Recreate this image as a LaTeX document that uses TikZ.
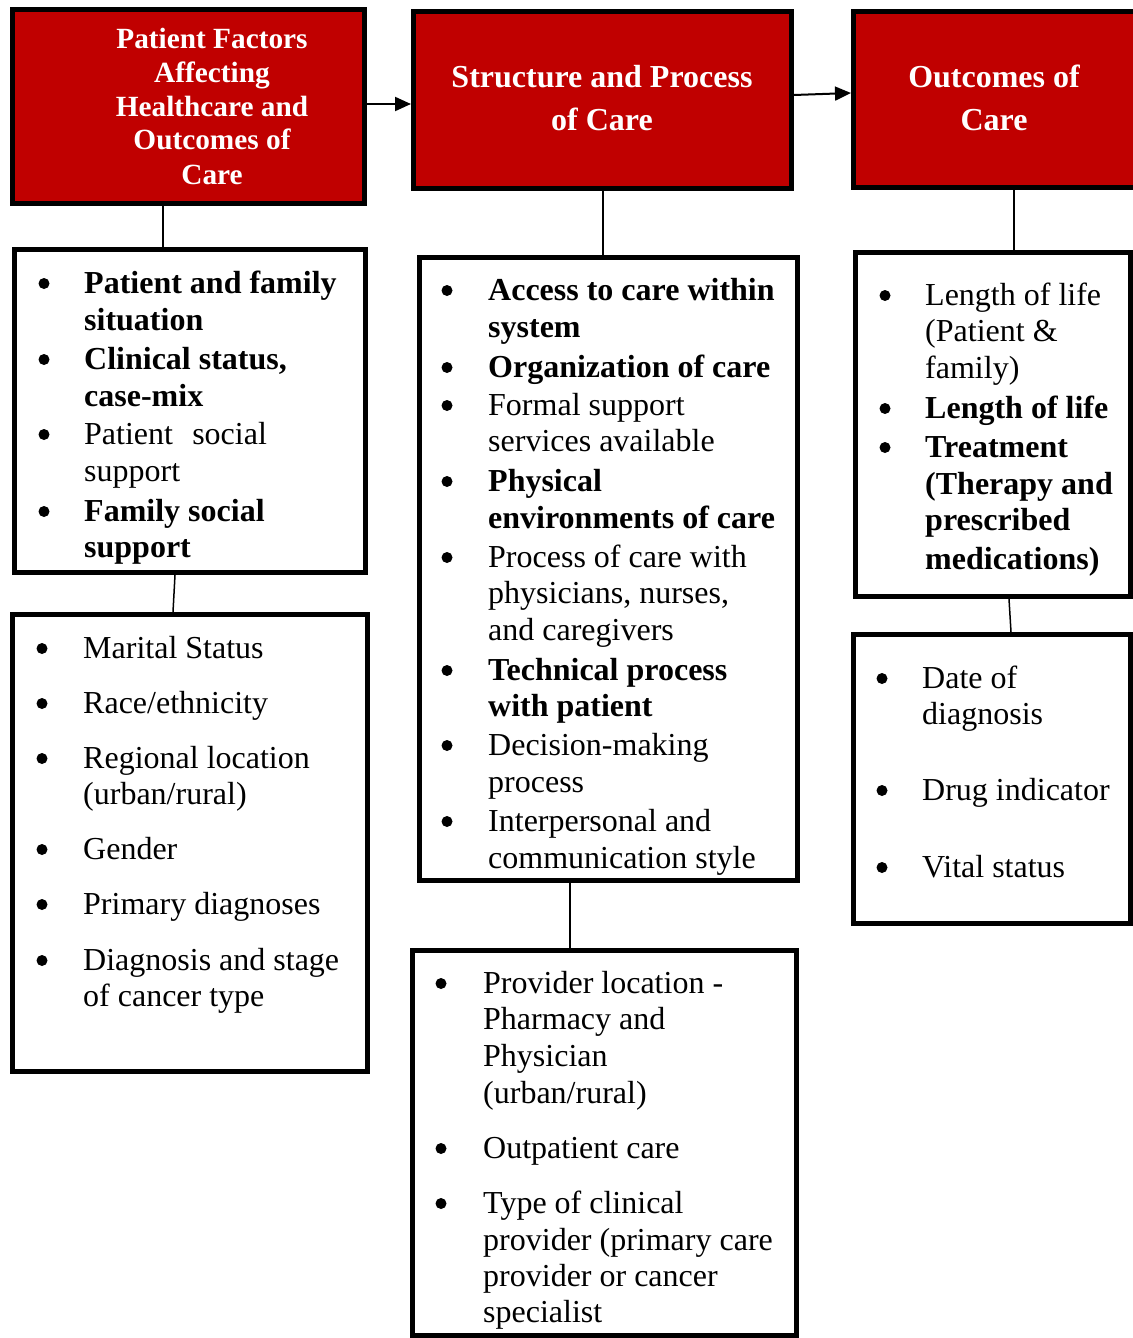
\documentclass[tikz,border=0pt]{standalone}
\usepackage{fontspec}
\setmainfont{Liberation Serif}
\usetikzlibrary{arrows.meta}
\definecolor{hdrred}{RGB}{192,0,0}
\newcommand\myfs{\fontsize{32}{37}\selectfont}
\newcommand\myhfs{\fontsize{29.3}{34}\selectfont\bfseries}
\newcommand\myhbfs{\fontsize{32}{44}\selectfont\bfseries}
\begin{document}
\begin{tikzpicture}[x=1pt,y=-1pt,
  hdr/.style={draw=black, line width=5pt, fill=hdrred, rectangle, anchor=north west, inner sep=0pt},
  lbox/.style={draw=black, line width=5pt, rectangle, anchor=north west, inner sep=0pt},
  htxt/.style={anchor=base, inner sep=0pt, text=white},
  txt/.style={anchor=base west, inner sep=0pt, font=\myfs},
  btxt/.style={anchor=base west, inner sep=0pt, font=\myfs\bfseries},
  bul/.style={circle, fill=black, inner sep=0pt, minimum size=11pt},
  conn/.style={draw=black, line width=1.5pt},
  arr/.style={draw=black, line width=2pt, -{Triangle[length=16pt,width=14pt]}}
]
\useasboundingbox (0,0) rectangle (1132,1338);

% ---------- headers ----------
\node[hdr, minimum width=352pt, minimum height=194pt] (h1) at (10,7) {};
\node[hdr, minimum width=378pt, minimum height=177pt] (h2) at (411,9) {};
\node[hdr, minimum width=300pt, minimum height=176pt] (h3) at (851,9) {};

\node[htxt, font=\myhfs] (h1t1) at (212,48.5) {Patient Factors};
\node[htxt, font=\myhfs] (h1t2) at (212,82.5) {Affecting};
\node[htxt, font=\myhfs] (h1t3) at (212,116.5) {Healthcare and};
\node[htxt, font=\myhfs] (h1t4) at (212,149.5) {Outcomes of};
\node[htxt, font=\myhfs] (h1t5) at (212,184.5) {Care};

\node[htxt, font=\myhbfs] (h2t1) at (602,87.3) {Structure and Process};
\node[htxt, font=\myhbfs] (h2t2) at (602,130.7) {of Care};

\node[htxt, font=\myhbfs] (h3t1) at (994,87.3) {Outcomes of};
\node[htxt, font=\myhbfs] (h3t2) at (994,130.7) {Care};

% ---------- box A ----------
\node[bul] (a1b) at (44,283.5) {};
\node[btxt] (a1t1) at (84,293.5) {Patient and family};
\node[btxt] (a1t2) at (84,330.5) {situation};
\node[bul] (a2b) at (44,359.5) {};
\node[btxt] (a2t1) at (84,369.5) {Clinical status,};
\node[btxt] (a2t2) at (84,406.5) {case-mix};
\node[bul] (a3b) at (44,434.5) {};
\node[txt] (a3t1) at (84,444.5) {Patient\hspace{0.35em} social};
\node[txt] (a3t2) at (84,481.5) {support};
\node[bul] (a4b) at (44,511.5) {};
\node[btxt] (a4t1) at (84,521.5) {Family social};
\node[btxt] (a4t2) at (84,557.5) {support};

% ---------- box B ----------
\node[bul] (b1b) at (42,648.5) {};
\node[txt] (b1t1) at (83,658.5) {Marital Status};
\node[bul] (b2b) at (42,703.5) {};
\node[txt] (b2t1) at (83,713.5) {Race/ethnicity};
\node[bul] (b3b) at (42,758.5) {};
\node[txt] (b3t1) at (83,768.5) {Regional location};
\node[txt] (b3t2) at (83,804.5) {(urban/rural)};
\node[bul] (b4b) at (42,849.5) {};
\node[txt] (b4t1) at (83,859.5) {Gender};
\node[bul] (b5b) at (42,904.5) {};
\node[txt] (b5t1) at (83,914.5) {Primary diagnoses};
\node[bul] (b6b) at (42,960.5) {};
\node[txt] (b6t1) at (83,970.5) {Diagnosis and stage};
\node[txt] (b6t2) at (83,1006.5) {of cancer type};

% ---------- box C ----------
\node[bul] (c1b) at (447,290.5) {};
\node[btxt] (c1t1) at (488,300.5) {Access to care within};
\node[btxt] (c1t2) at (488,337.5) {system};
\node[bul] (c2b) at (447,367.5) {};
\node[btxt] (c2t1) at (488,377.5) {Organization of care};
\node[bul] (c3b) at (447,405.5) {};
\node[txt] (c3t1) at (488,415.5) {Formal support};
\node[txt] (c3t2) at (488,451.5) {services available};
\node[bul] (c4b) at (447,481.5) {};
\node[btxt] (c4t1) at (488,491.5) {Physical};
\node[btxt] (c4t2) at (488,528.5) {environments of care};
\node[bul] (c5b) at (447,557.5) {};
\node[txt] (c5t1) at (488,567.5) {Process of care with};
\node[txt] (c5t2) at (488,603.5) {physicians, nurses,};
\node[txt] (c5t3) at (488,640.5) {and caregivers};
\node[bul] (c6b) at (447,670.5) {};
\node[btxt] (c6t1) at (488,680.5) {Technical process};
\node[btxt] (c6t2) at (488,716.5) {with patient};
\node[bul] (c7b) at (447,745.5) {};
\node[txt] (c7t1) at (488,755.5) {Decision-making};
\node[txt] (c7t2) at (488,792.5) {process};
\node[bul] (c8b) at (447,821.5) {};
\node[txt] (c8t1) at (488,831.5) {Interpersonal and};
\node[txt] (c8t2) at (488,868.5) {communication style};

% ---------- box D ----------
\node[bul] (d1b) at (441,983.5) {};
\node[txt] (d1t1) at (483,993.5) {Provider location -};
\node[txt] (d1t2) at (483,1029.5) {Pharmacy and};
\node[txt] (d1t3) at (483,1066.5) {Physician};
\node[txt] (d1t4) at (483,1103.5) {(urban/rural)};
\node[bul] (d2b) at (441,1148.5) {};
\node[txt] (d2t1) at (483,1158.5) {Outpatient care};
\node[bul] (d3b) at (441,1203.5) {};
\node[txt] (d3t1) at (483,1213.5) {Type of clinical};
\node[txt] (d3t2) at (483,1250.5) {provider (primary care};
\node[txt] (d3t3) at (483,1286.5) {provider or cancer};
\node[txt] (d3t4) at (483,1322.5) {specialist};

% ---------- box E ----------
\node[bul] (e1b) at (885,295.5) {};
\node[txt] (e1t1) at (925,305.5) {Length of life};
\node[txt] (e1t2) at (925,341.5) {(Patient \&};
\node[txt] (e1t3) at (925,378.5) {family)};
\node[bul] (e2b) at (885,408.5) {};
\node[btxt] (e2t1) at (925,418.5) {Length of life};
\node[bul] (e3b) at (885,447.5) {};
\node[btxt] (e3t1) at (925,457.5) {Treatment};
\node[btxt] (e3t2) at (925,494.5) {(Therapy and};
\node[btxt] (e3t3) at (925,530.5) {prescribed};
\node[btxt] (e3t4) at (925,569.5) {medications)};

% ---------- box F ----------
\node[bul] (f1b) at (882,678.5) {};
\node[txt] (f1t1) at (922,688.5) {Date of};
\node[txt] (f1t2) at (922,724.5) {diagnosis};
\node[bul] (f2b) at (882,790.5) {};
\node[txt] (f2t1) at (922,800.5) {Drug indicator};
\node[bul] (f3b) at (882,867.5) {};
\node[txt] (f3t1) at (922,877.5) {Vital status};

% ---------- list boxes (drawn over text) ----------
\node[lbox, minimum width=351pt, minimum height=323pt] (A) at (12,247) {};
\node[lbox, minimum width=355pt, minimum height=457pt] (B) at (10,612) {};
\node[lbox, minimum width=378pt, minimum height=623pt] (C) at (417,255) {};
\node[lbox, minimum width=384pt, minimum height=385pt] (D) at (410,948) {};
\node[lbox, minimum width=275pt, minimum height=344pt] (E) at (853,250) {};
\node[lbox, minimum width=277pt, minimum height=289pt] (F) at (851,632) {};

% ---------- connectors ----------
\draw[arr] (h1.east |- 0,104) -- (h2.west |- 0,104);
\draw[arr] (h2.east |- 0,95) -- (h3.west |- 0,93);
\draw[conn] (h1.south -| 163,0) -- (A.north -| 163,0);
\draw[conn] (h2.south -| 603,0) -- (C.north -| 603,0);
\draw[conn] (h3.south -| 1014,0) -- (E.north -| 1014,0);
\draw[conn] (A.south -| 175,0) -- (B.north -| 173,0);
\draw[conn] (C.south -| 570,0) -- (D.north -| 570,0);
\draw[conn] (E.south -| 1009,0) -- (F.north -| 1011,0);
\end{tikzpicture}
\end{document}
